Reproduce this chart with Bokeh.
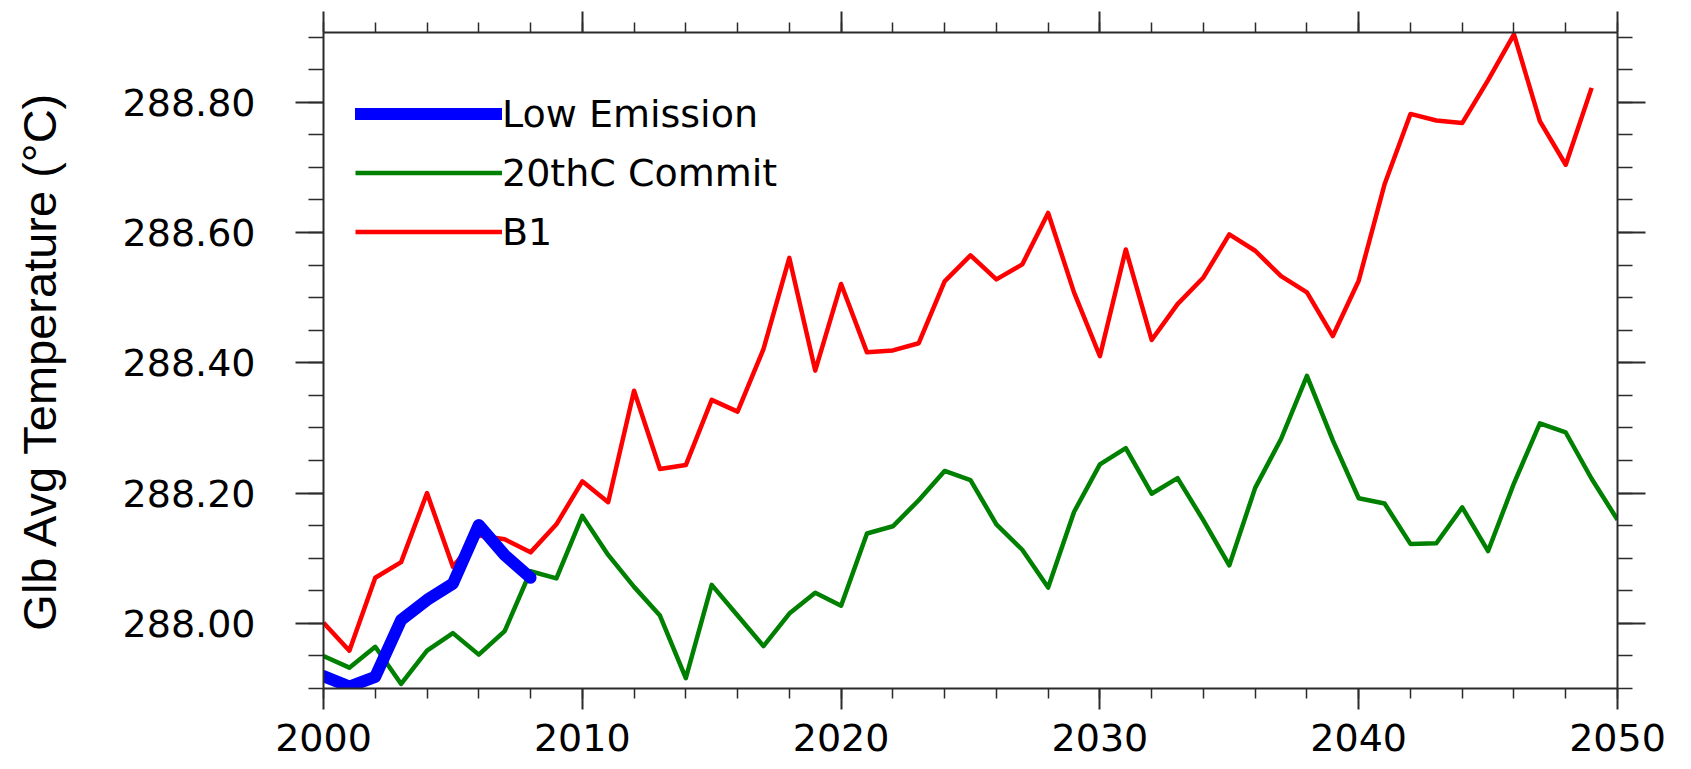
from bokeh.plotting import figure
from bokeh.models import (Range1d, FixedTicker, LinearAxis, Legend, LegendItem,
                          NumeralTickFormatter, CustomLabelingPolicy)
from bokeh.embed import file_html
from bokeh.resources import INLINE

# Global average temperature (K-scale values labelled in the source as °C), annual means
years_low = [2000, 2001, 2002, 2003, 2004, 2005, 2006, 2007, 2008]
low_emission = [287.919, 287.903, 287.918, 288.005, 288.036, 288.061, 288.151, 288.105, 288.070]

years_commit = list(range(2000, 2051))
commit_20thc = [
    287.950, 287.932, 287.964, 287.907, 287.958, 287.985, 287.952, 287.988, 288.080, 288.069,
    288.165, 288.105, 288.056, 288.012, 287.916, 288.059, 288.012, 287.965, 288.015, 288.047,
    288.027, 288.138, 288.149, 288.189, 288.234, 288.220, 288.152, 288.113, 288.055, 288.171,
    288.244, 288.269, 288.199, 288.223, 288.158, 288.089, 288.208, 288.283, 288.380, 288.281,
    288.192, 288.184, 288.122, 288.123, 288.178, 288.111, 288.215, 288.307, 288.293, 288.222,
    288.159,
]

years_b1 = list(range(2000, 2050))
b1 = [
    288.001, 287.958, 288.070, 288.094, 288.200, 288.087, 288.135, 288.129, 288.109, 288.152,
    288.218, 288.186, 288.357, 288.237, 288.243, 288.343, 288.325, 288.421, 288.561, 288.388,
    288.521, 288.416, 288.419, 288.430, 288.525, 288.565, 288.528, 288.551, 288.630, 288.508,
    288.410, 288.574, 288.435, 288.490, 288.531, 288.597, 288.572, 288.533, 288.508, 288.441,
    288.526, 288.674, 288.782, 288.772, 288.768, 288.834, 288.904, 288.771, 288.704, 288.822,
]

series_names = ["Low Emission", "20thC Commit", "B1"]
y_title = "Glb Avg Temperature (°C)"

x_major = [2000, 2010, 2020, 2030, 2040, 2050]
x_minor = [2000, 2002, 2004, 2006, 2008, 2010, 2012, 2014, 2016, 2018, 2020, 2022, 2024,
           2026, 2028, 2030, 2032, 2034, 2036, 2038, 2040, 2042, 2044, 2046, 2048, 2050]
y_major = [288.00, 288.20, 288.40, 288.60, 288.80]
y_minor = [287.90, 287.95, 288.00, 288.05, 288.10, 288.15, 288.20, 288.25, 288.30, 288.35,
           288.40, 288.45, 288.50, 288.55, 288.60, 288.65, 288.70, 288.75, 288.80, 288.85,
           288.90]

TICK_FONT = "DejaVu Sans"
AXIS_COLOR = "#2b2b2b"

p = figure(
    width=1691, height=769,
    output_backend="svg", toolbar_location=None,
    x_range=Range1d(2000, 2050), y_range=Range1d(287.90, 288.907),
    min_border_left=323, min_border_right=74, min_border_top=31, min_border_bottom=81,
    background_fill_color="white", border_fill_color="white",
)
p.outline_line_color = None
p.grid.visible = False

x_ticker = FixedTicker(ticks=x_major, minor_ticks=x_minor)
y_ticker = FixedTicker(ticks=y_major, minor_ticks=y_minor)

# drops every tick label (used for the tick-only mirror axes)
no_labels = CustomLabelingPolicy(code="""
    for (const i of [...indices]) { indices.unset(i) }
    return indices
""")


def style_axis(ax, ticker, tick_out, minor_out, show_labels):
    ax.ticker = ticker
    ax.axis_line_color = AXIS_COLOR
    ax.axis_line_width = 2
    ax.major_tick_line_color = AXIS_COLOR
    ax.major_tick_line_width = 2
    ax.minor_tick_line_color = AXIS_COLOR
    ax.minor_tick_line_width = 1.5
    ax.major_tick_in = 0
    ax.minor_tick_in = 0
    ax.major_tick_out = tick_out
    ax.minor_tick_out = minor_out
    if show_labels:
        ax.major_label_text_font = TICK_FONT
        ax.major_label_text_font_size = "38px"
        ax.major_label_text_color = "black"
    else:
        ax.major_label_policy = no_labels
        ax.major_label_standoff = 0


# bottom axis (years)
xb = p.xaxis[0]
style_axis(xb, x_ticker, 21, 10, True)
xb.major_label_standoff = 14

# left axis (temperature)
yl = p.yaxis[0]
style_axis(yl, y_ticker, 28, 15, True)
yl.formatter = NumeralTickFormatter(format="0.00")
yl.major_label_standoff = 40
yl.axis_label = y_title
yl.axis_label_text_font = "Liberation Sans"
yl.axis_label_text_font_size = "47px"
yl.axis_label_text_font_style = "normal"
yl.axis_label_text_color = "black"
yl.axis_label_standoff = 54

# mirrored axes on top and right, ticks only
xt = LinearAxis()
style_axis(xt, x_ticker, 21, 10, False)
p.add_layout(xt, "above")

yr = LinearAxis()
style_axis(yr, y_ticker, 28, 15, False)
p.add_layout(yr, "right")

r_b1 = p.line(years_b1, b1, line_color="#ff0000", line_width=4.5, line_join="round")
r_commit = p.line(years_commit, commit_20thc, line_color="#008000", line_width=4.5, line_join="round")
r_low = p.line(years_low, low_emission, line_color="#0000ff", line_width=12,
               line_join="round", line_cap="round")

legend = Legend(
    items=[
        LegendItem(label=series_names[0], renderers=[r_low]),
        LegendItem(label=series_names[1], renderers=[r_commit]),
        LegendItem(label=series_names[2], renderers=[r_b1]),
    ],
    location=(32, 427),
    orientation="vertical",
    border_line_color=None,
    background_fill_alpha=0,
    padding=0, margin=0, spacing=0,
    glyph_width=147, glyph_height=59, label_height=59, label_standoff=0,
    label_text_font=TICK_FONT, label_text_font_size="38px", label_text_color="black",
)
p.add_layout(legend)

open("out.html", "w").write(file_html(p, INLINE))
